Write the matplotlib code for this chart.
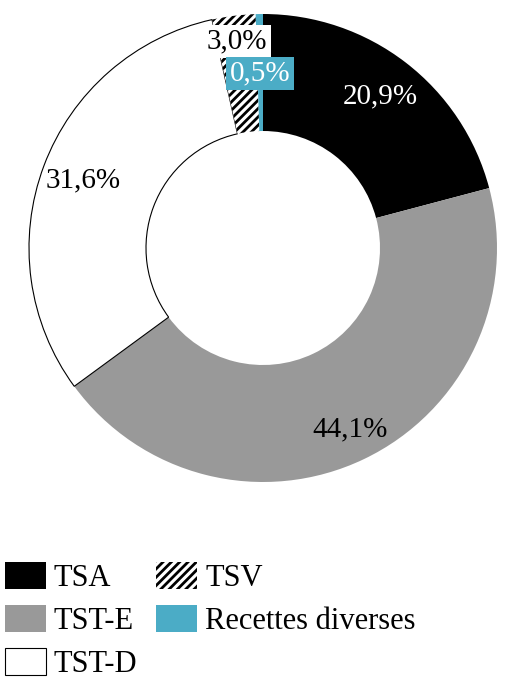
import numpy as np
import matplotlib.pyplot as plt
from matplotlib.patches import Patch

labels = ['TSA', 'TST-E', 'TST-D', 'TSV', 'Recettes diverses']
values = [20.9, 44.1, 31.6, 3.0, 0.5]
colors = ['#000000', '#999999', '#ffffff', '#ffffff', '#4bacc6']
hatches = [None, None, None, '////', None]

plt.rcParams['font.family'] = ['Liberation Serif', 'DejaVu Serif']
plt.rcParams['hatch.linewidth'] = 2.0

fig = plt.figure(figsize=(5.26, 6.99), dpi=100)
ax = fig.add_axes([29/526, 1 - 482/699, 468/526, 468/699])

wedges, _ = ax.pie(values, colors=colors, startangle=90, counterclock=False,
                   radius=1.0, wedgeprops=dict(width=0.5, edgecolor='none'))
for w, h, c in zip(wedges, hatches, colors):
    if h:
        w.set_hatch(h)
        w.set_edgecolor('black')
        w.set_linewidth(0)
    if c == '#ffffff' and not h:
        w.set_edgecolor('black')
        w.set_linewidth(0.8)
ax.set_xlim(-1, 1)
ax.set_ylim(-1, 1)
ax.set_aspect('equal')

# label radius / colour / box per slice
radii = [0.82, 0.86, 0.82, 0.89, 0.745]
txt_colors = ['white', 'black', 'black', 'black', 'white']
boxes = [None, None, None, 'white', '#4bacc6']
for w, v, r, tc, bc in zip(wedges, values, radii, txt_colors, boxes):
    ang = np.deg2rad((w.theta1 + w.theta2) / 2)
    s = ('%.1f' % v).replace('.', ',') + '%'
    kw = {}
    if bc:
        kw['bbox'] = dict(boxstyle='square,pad=0.12', fc=bc, ec='none')
    ax.text(r * np.cos(ang), r * np.sin(ang), s, ha='center', va='center',
            fontsize=21, color=tc, **kw)

handles = []
for c, h in zip(colors, hatches):
    if h:
        handles.append(Patch(facecolor='white', edgecolor='black', hatch=h, linewidth=0))
    elif c == '#ffffff':
        handles.append(Patch(facecolor=c, edgecolor='black', linewidth=0.8))
    else:
        handles.append(Patch(facecolor=c, edgecolor='none'))
fig.legend(handles, labels, ncol=2, loc='upper left', bbox_to_anchor=(5/526, 1 - 562/699),
           frameon=False, fontsize=22, handlelength=1.34, handleheight=1.0,
           handletextpad=0.26, labelspacing=0.38, columnspacing=0.62,
           borderaxespad=0, borderpad=0)

fig.savefig('out.png', dpi=100)
